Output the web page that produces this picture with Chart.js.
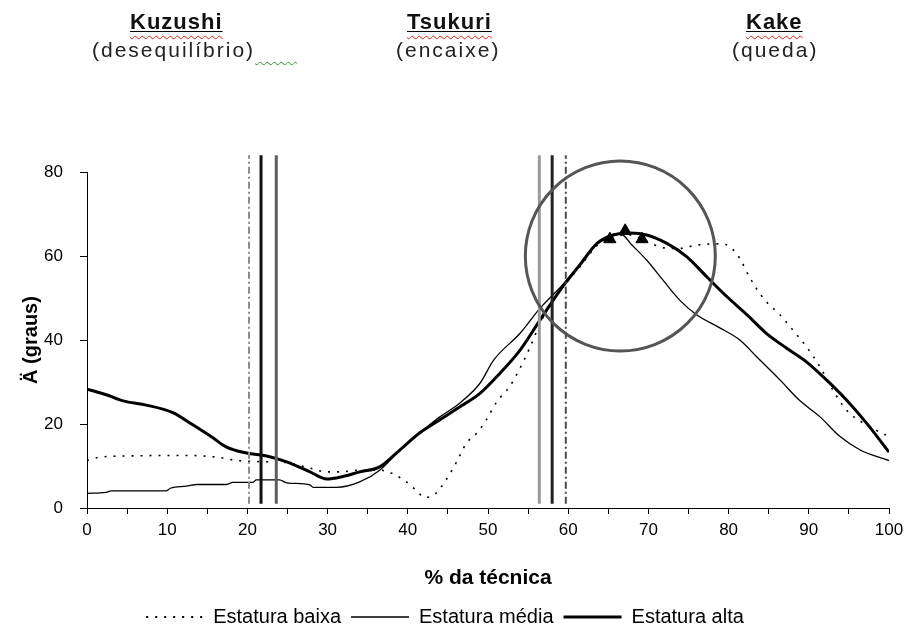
<!DOCTYPE html>
<html>
<head>
<meta charset="utf-8">
<script src="https://cdn.jsdelivr.net/npm/chart.js@4/dist/chart.umd.min.js"></script>
<style>
  html, body { margin: 0; padding: 0; background: #fff; }
  #wrap { position: relative; width: 910px; height: 630px; }
  #chart { position: absolute; left: 0; top: 0; }
  .hd {
    position: absolute; white-space: nowrap; color: #111;
    font-family: "Liberation Sans", Arial, sans-serif;
  }
  .name {
    top: 9px; font-weight: bold; font-size: 22px; letter-spacing: 1px;
    text-decoration: underline solid #000 1px; text-underline-offset: 2px;
  }
  .name span { text-decoration: underline wavy #e02020 1px; text-underline-offset: 6px; }
  .sub { top: 38px; font-size: 21px; letter-spacing: 2px; color: #222; }
  .chk { color: transparent; letter-spacing: 0; text-decoration: underline wavy #2a9a2a 1px; text-underline-offset: 4px; }
</style>
</head>
<body>
<div id="wrap">
  <canvas id="chart" width="910" height="630"></canvas>
  <div class="hd name" style="left:130px"><span>Kuzushi</span></div>
  <div class="hd sub" style="left:92px">(desequilíbrio)<span class="chk">xxxx</span></div>
  <div class="hd name" style="left:407px"><span>Tsukuri</span></div>
  <div class="hd sub" style="left:396px">(encaixe)</div>
  <div class="hd name" style="left:746px"><span>Kake</span></div>
  <div class="hd sub" style="left:732px">(queda)</div>
</div>
<script>
// Joint angle (degrees) over the course of the technique (% of duration)
const seriesNames = ['Estatura baixa', 'Estatura média', 'Estatura alta'];

const baixaX = [0, 1.6, 5.4, 9.5, 12.8, 16.2, 18.7, 22.4, 24.9, 27.8, 29.9, 31.5, 34, 36.5, 39.4, 41.1, 42.1, 43.4, 44.8, 46.1, 47.3, 48.6, 49.8, 51.1, 52.7, 54, 55.2, 56.5, 58.1, 61.5, 63.6, 65.6, 67.7, 69.8, 71.8, 73.9, 76, 79.3, 80.6, 81.4, 82.6, 84.3, 86.4, 88, 89.7, 91.4, 93, 94.7, 96.8, 100];
const baixaY = [11.3, 12.1, 12.4, 12.5, 12.5, 12.1, 11.3, 11.0, 10.8, 9.5, 8.6, 8.6, 9, 9, 6.8, 4.1, 2.5, 3.3, 6.8, 11, 15.4, 17.8, 21, 25.3, 28.9, 33.3, 38.1, 44, 49.5, 57.5, 62.5, 64.5, 65, 63.5, 62, 61.8, 62.6, 62.9, 61.4, 59.4, 55, 50, 46, 42.4, 38.4, 33.6, 28.1, 23.3, 20.2, 17];

const mediaX = [0, 2.4, 3.0, 9.9, 10.4, 12.4, 13.7, 17.4, 18.2, 20.7, 21.1, 24, 24.9, 27.8, 28.2, 31.1, 34, 36.5, 39, 41.5, 44, 46.5, 49, 50.7, 54, 56.5, 59, 61.5, 63.6, 66.5, 68, 69.8, 71.8, 73.9, 76, 78.9, 81.4, 83.5, 86.4, 88.8, 91.4, 93.9, 96.4, 100];
const mediaY = [3.5, 3.7, 4.1, 4.1, 4.7, 5.2, 5.6, 5.6, 6.1, 6.1, 6.7, 6.7, 6.0, 5.5, 4.9, 4.9, 6.2, 9, 13.8, 17.9, 21.7, 25, 29.7, 35.2, 41.6, 47.6, 52.5, 58, 63, 65.3, 62.5, 59, 54.3, 49.5, 46, 42.9, 40, 36, 30.5, 25.7, 21.7, 17, 13.8, 11.3];

const altaX = [0, 2.5, 4.5, 7.4, 10.7, 13.2, 15.7, 17.4, 19.9, 22.4, 24.9, 27.8, 29.9, 31.9, 34, 36.5, 39, 41.5, 44, 46.5, 49, 51.5, 54, 56.5, 59, 61.5, 63.6, 65.6, 67.7, 69.8, 72.3, 74.8, 77.3, 79.8, 82.3, 84.7, 87.2, 89.7, 92.2, 94.7, 97.2, 100];
const altaY = [28.3, 26.9, 25.5, 24.5, 22.7, 19.8, 16.7, 14.5, 13.1, 12.4, 11.0, 8.6, 6.9, 7.5, 8.6, 9.8, 13.8, 17.9, 21, 24.1, 27.3, 32.1, 37.6, 44.8, 51.9, 58, 63, 65, 65.5, 65, 63, 59.8, 55, 50.3, 46, 41.6, 38.1, 34.8, 30.5, 25.7, 20.2, 13.3];

// Phase transition instants (% of technique)
const eventX = [20.2, 21.7, 23.6, 56.4, 58.0, 59.7];
const eventSpan = [1, 84];

// Peak angle markers and the highlighted peak region
const peakX = [65.2, 67.1, 69.2];
const peakY = [64, 66, 64];
const focusX = 66.5;
const focusY = 60;

const xTickStep = 5;
const xLabelStep = 10;
const yTickStep = 20;

const FONT = "'Liberation Sans', Arial, sans-serif";

const pts = (xs, ys) => xs.map((x, i) => ({ x, y: ys[i] }));

// Dotted legend key for the short-stature series
const dottedKey = document.createElement('canvas');
dottedKey.width = 58;
dottedKey.height = 4;
(() => {
  const g = dottedKey.getContext('2d');
  g.fillStyle = '#000';
  for (let px = 1; px < 58; px += 9) g.fillRect(px, 1, 2, 2);
})();

const eventStyles = [
  { color: '#8c8c8c', width: 2, dash: [7, 3, 2, 3] },
  { color: '#111111', width: 3, dash: [] },
  { color: '#5e5e5e', width: 3, dash: [] },
  { color: '#9a9a9a', width: 3, dash: [] },
  { color: '#222222', width: 3, dash: [] },
  { color: '#4a4a4a', width: 2, dash: [7, 3, 2, 3] }
];

const datasets = [];

datasets.push({
  type: 'scatter', label: 'picos', data: pts(peakX, peakY),
  pointStyle: 'triangle', pointRadius: 7, pointHoverRadius: 7,
  backgroundColor: '#000', borderColor: '#000', borderWidth: 1,
  order: 0, clip: false
});

datasets.push({
  type: 'scatter', label: 'região', data: [{ x: focusX, y: focusY }],
  pointStyle: 'circle', pointRadius: 95, pointHoverRadius: 95,
  backgroundColor: 'rgba(0,0,0,0)', borderColor: '#555', borderWidth: 3,
  order: 1, clip: false
});

eventX.forEach((x, i) => {
  const s = eventStyles[i];
  datasets.push({
    type: 'line', label: 'evento ' + (i + 1),
    data: [{ x, y: eventSpan[0] }, { x, y: eventSpan[1] }],
    borderColor: s.color, borderWidth: s.width, borderDash: s.dash,
    pointRadius: 0, tension: 0, order: 2, clip: false
  });
});

datasets.push({
  type: 'line', label: seriesNames[0], data: pts(baixaX, baixaY), inLegend: true,
  borderColor: '#000', borderWidth: 1.6, borderDash: [2, 7],
  pointRadius: 0, pointStyle: dottedKey, cubicInterpolationMode: 'monotone', order: 5
});
datasets.push({
  type: 'line', label: seriesNames[1], data: pts(mediaX, mediaY), inLegend: true,
  borderColor: '#000', borderWidth: 1.3,
  pointRadius: 0, pointStyle: 'line', cubicInterpolationMode: 'monotone', order: 4
});
datasets.push({
  type: 'line', label: seriesNames[2], data: pts(altaX, altaY), inLegend: true,
  borderColor: '#000', borderWidth: 3,
  pointRadius: 0, pointStyle: 'line', cubicInterpolationMode: 'monotone', order: 3
});

new Chart(document.getElementById('chart'), {
  type: 'line',
  data: { datasets },
  options: {
    responsive: false,
    animation: false,
    events: [],
    layout: { autoPadding: false, padding: { top: 172, left: 0, right: 21, bottom: -7 } },
    plugins: {
      tooltip: { enabled: false },
      legend: {
        position: 'bottom',
        labels: {
          filter: (item, data) => !!data.datasets[item.datasetIndex].inLegend,
          sort: (a, b) => a.datasetIndex - b.datasetIndex,
          usePointStyle: true, pointStyleWidth: 58,
          padding: 10, color: '#000',
          font: { family: FONT, size: 20 }
        }
      }
    },
    scales: {
      x: {
        type: 'linear', min: 0, max: 100,
        afterFit: (s) => { s.height = 89; },
        ticks: {
          stepSize: xTickStep, autoSkip: false, maxRotation: 0, padding: 6,
          callback: (v) => (v % xLabelStep === 0 ? String(v) : ''),
          color: '#000', font: { family: FONT, size: 17 }
        },
        grid: { drawOnChartArea: false, tickLength: 6, color: '#000', lineWidth: 1 },
        border: { color: '#000', width: 1 },
        title: {
          display: true, text: '% da técnica', color: '#000',
          font: { family: FONT, size: 21, weight: 'bold' },
          padding: { top: 0, bottom: 6 }
        }
      },
      y: {
        type: 'linear', min: 0, max: 80,
        afterFit: (s) => { s.width = 87; },
        ticks: {
          stepSize: yTickStep, padding: 17,
          color: '#000', font: { family: FONT, size: 17 }
        },
        grid: { drawOnChartArea: false, tickLength: 7, color: '#000', lineWidth: 1 },
        border: { color: '#000', width: 1 },
        title: {
          display: true, text: 'Ä (graus)', color: '#000',
          font: { family: FONT, size: 20, weight: 'bold' },
          padding: { top: 19, bottom: 0 }
        }
      }
    }
  }
});
</script>
</body>
</html>
